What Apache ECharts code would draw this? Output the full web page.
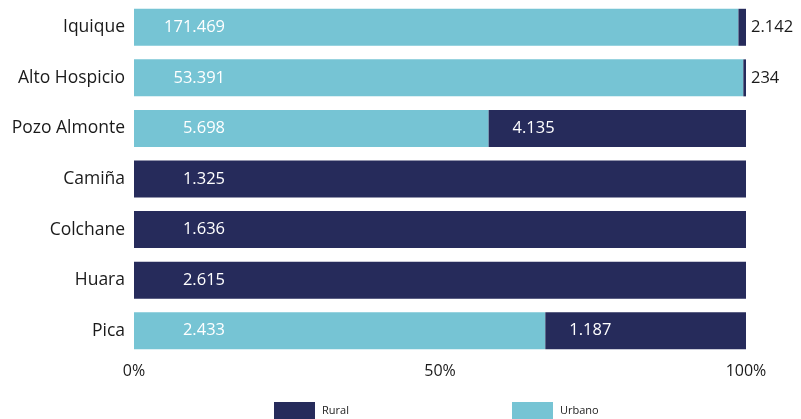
<!DOCTYPE html>
<html>
<head>
<meta charset="utf-8">
<script src="https://cdn.jsdelivr.net/npm/echarts@6/dist/echarts.min.js"></script>
<style>
  html, body { margin: 0; padding: 0; background: #fff; }
  #main { width: 801px; height: 419px; }
</style>
</head>
<body>
<div id="main"></div>
<script>
var comunas = ['Iquique', 'Alto Hospicio', 'Pozo Almonte', 'Camiña', 'Colchane', 'Huara', 'Pica'];
var urbano = [171469, 53391, 5698, 0, 0, 0, 2433];
var rural = [2142, 234, 4135, 1325, 1636, 2615, 1187];
var ticks = ['0%', '50%', '100%'];

var colUrbano = '#76C4D4';
var colRural = '#262B5B';
var font = '"Open Sans", "Noto Sans", sans-serif';

function fmt(n) {
    return String(n).replace(/\B(?=(\d{3})+(?!\d))/g, '.');
}

var mychart = echarts.init(document.getElementById('main'));

var urbanData = comunas.map(function (c, i) {
    var tot = urbano[i] + rural[i];
    return {
        value: urbano[i] / tot,
        label: { show: urbano[i] > 0 }
    };
});

var ruralData = comunas.map(function (c, i) {
    var tot = urbano[i] + rural[i];
    var share = rural[i] / tot;
    var item = { value: share };
    if (share < 0.05) {
        item.label = { position: 'right', distance: 5, align: 'left', color: '#1a1a1a' };
    } else if (urbano[i] > 0) {
        item.label = { position: [66, '50%'] };
    }
    return item;
});

var option = {
    animation: false,
    grid: { left: 134, right: 55, top: 2, bottom: 63 },
    legend: [
        {
            left: 274, top: 402, itemWidth: 41, itemHeight: 18,
            padding: 0, icon: 'rect',
            itemGap: 12,
            data: ['Rural'],
            textStyle: { fontFamily: font, fontSize: 11, color: '#222', padding: [0, 0, 0, 2] }
        },
        {
            left: 512, top: 402, itemWidth: 41, itemHeight: 18,
            padding: 0, icon: 'rect',
            data: ['Urbano'],
            textStyle: { fontFamily: font, fontSize: 11, color: '#222', padding: [0, 0, 0, 2] }
        }
    ],
    xAxis: {
        type: 'value',
        min: 0,
        max: 1,
        interval: 0.5,
        axisLine: { show: false },
        axisTick: { show: false },
        splitLine: { show: false },
        axisLabel: {
            margin: 7,
            fontFamily: font,
            fontSize: 16,
            color: '#1a1a1a',
            formatter: function (v) { return ticks[Math.round(v * 2)]; }
        }
    },
    yAxis: {
        type: 'category',
        inverse: true,
        data: comunas,
        axisLine: { show: false },
        axisTick: { show: false },
        axisLabel: { margin: 9, fontFamily: font, fontSize: 17.5, color: '#1a1a1a' }
    },
    series: [
        {
            name: 'Urbano',
            type: 'bar',
            stack: 'total',
            barWidth: 37,
            itemStyle: { color: colUrbano },
            label: {
                show: true,
                position: [91, '50%'],
                align: 'right',
                verticalAlign: 'middle',
                color: '#fff',
                fontFamily: font,
                fontSize: 16.5,
                formatter: function (p) { return fmt(urbano[p.dataIndex]); }
            },
            data: urbanData
        },
        {
            name: 'Rural',
            type: 'bar',
            stack: 'total',
            barWidth: 37,
            itemStyle: { color: colRural },
            label: {
                show: true,
                position: [91, '50%'],
                align: 'right',
                verticalAlign: 'middle',
                color: '#fff',
                fontFamily: font,
                fontSize: 16.5,
                formatter: function (p) { return fmt(rural[p.dataIndex]); }
            },
            data: ruralData
        }
    ]
};

mychart.setOption(option);
</script>
</body>
</html>
